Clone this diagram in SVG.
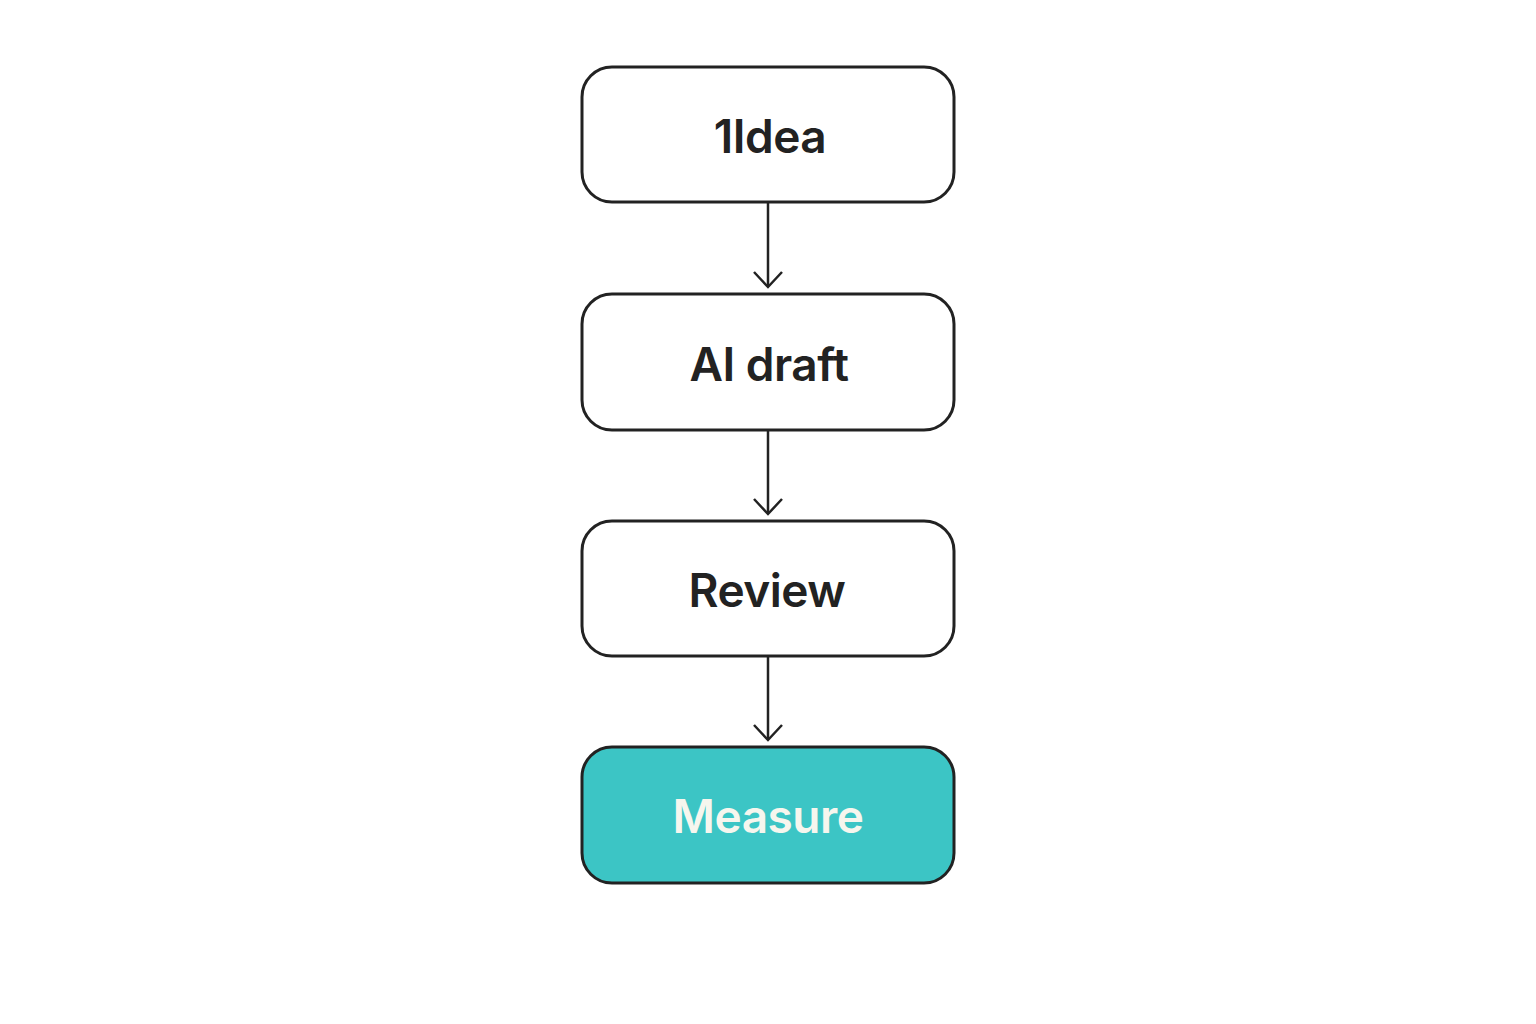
<svg xmlns="http://www.w3.org/2000/svg" width="1536" height="1024" viewBox="0 0 1536 1024">
<style>
.box{fill:#fff;stroke:#222;stroke-width:3}
.hl{fill:#3cc5c5;stroke:#222;stroke-width:3}
.t{font-family:Inter,"Liberation Sans",sans-serif;font-weight:600;font-size:46px;fill:#222;text-anchor:middle;letter-spacing:-0.5px}
.tw{fill:#f6f6ee}
.c{stroke:#222;stroke-width:2.5;fill:none}
</style>
<rect width="1536" height="1024" fill="#fff"/>
<g id="connectors">
<line class="c" x1="768" y1="202" x2="768" y2="286"/>
<path class="c" d="M754,272 L768,287 L782,272"/>
<line class="c" x1="768" y1="430" x2="768" y2="513"/>
<path class="c" d="M754,499 L768,514 L782,499"/>
<line class="c" x1="768" y1="656" x2="768" y2="739"/>
<path class="c" d="M754,725 L768,740 L782,725"/>
</g>
<g id="n1"><rect class="box" x="582" y="67" width="372" height="135" rx="30"/><text class="t" x="770" y="153">1Idea</text></g>
<g id="n2"><rect class="box" x="582" y="294" width="372" height="136" rx="30"/><text class="t" x="769" y="381">AI draft</text></g>
<g id="n3"><rect class="box" x="582" y="521" width="372" height="135" rx="30"/><text class="t" x="767" y="607">Review</text></g>
<g id="n4"><rect class="hl" x="582" y="747" width="372" height="136" rx="30"/><text class="t tw" x="768" y="833">Measure</text></g>
</svg>
